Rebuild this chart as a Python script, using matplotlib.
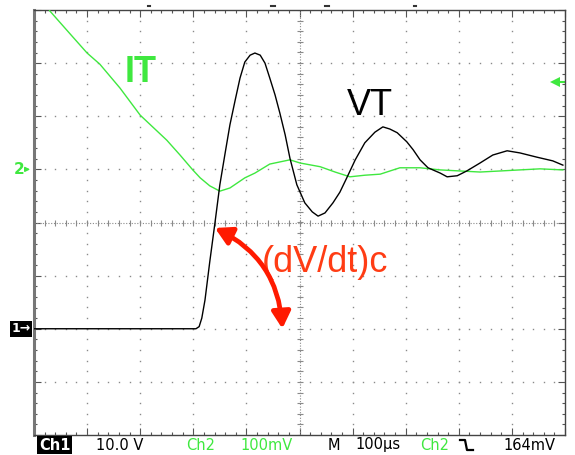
import numpy as np
import matplotlib
matplotlib.use("Agg")
import matplotlib.pyplot as plt
from matplotlib.patches import FancyArrowPatch
from matplotlib.ticker import MultipleLocator

# scope settings
ch1_scale = 10.0     # V/div
ch2_scale = 100.0    # mV/div
time_scale = 100.0   # us/div
ch1_ground = -2      # ground marker position, divisions from centre
ch2_ground = 1
trig_level = 164.0   # mV on ch2

# VT (ch1), volts, time in us from the left edge of the screen
vt_t = [0, 305, 311, 316, 322, 331, 341, 350, 360, 369, 379, 388, 397, 407, 416,
        426, 435, 444, 454, 463, 473, 482, 495, 510, 524, 535, 548, 563, 576,
        589, 605, 623, 642, 657, 670, 684, 702, 714, 727, 742, 765, 778, 797,
        815, 840, 864, 891, 915, 947, 977, 996]
vt_v = [0.0, 0.0, 0.4, 2.0, 5.4, 12.6, 20.1, 27.1, 33.1, 38.4, 43.1, 47.2, 50.2,
        51.5, 51.9, 51.5, 50.0, 47.2, 44.0, 40.6, 36.5, 32.1, 27.1, 23.7, 22.0,
        21.2, 21.8, 23.7, 25.7, 28.4, 31.8, 35.0, 37.0, 38.0, 37.6, 36.9, 35.2,
        33.7, 31.8, 30.3, 29.3, 28.6, 28.8, 29.7, 31.2, 32.7, 33.5, 33.1, 32.3,
        31.6, 30.8]

# IT (ch2), mV
it_t = [20, 30, 68, 100, 124, 162, 200, 250, 275, 299, 313, 331, 350, 369,
        397, 416, 444, 482, 501, 539, 567, 595, 623, 652, 689, 727, 765, 802,
        840, 878, 915, 953, 996]
it_mv = [318, 298, 255, 219, 198, 153, 102, 55, 27, -1, -16, -31, -41, -35,
         -16, -7, 10, 18, 12, 5, -5, -14, -11, -9, 3, 3, -1, -3, -5, -3, -1,
         1, -1]

green = '#3fe83f'
grid_c = '#8a8a8a'

fig = plt.figure(figsize=(5.75, 4.55), dpi=100)
L, R, T, B = 34, 565, 10, 435
ax = fig.add_axes([L / 575, 1 - B / 455, (R - L) / 575, (B - T) / 455])
ax.set_xlim(0, 10)
ax.set_ylim(-4, 4)

# graticule: dotted division lines
fine_y = np.arange(-4, 4.001, 0.2)
fine_x = np.arange(0, 10.001, 0.2)
for gx in range(1, 10):
    if gx == 5:
        continue
    ax.plot(np.full_like(fine_y, gx), fine_y, 's', ms=1.0, color=grid_c, mew=0)
for gy in range(-3, 4):
    if gy == 0:
        continue
    ax.plot(fine_x, np.full_like(fine_x, gy), 's', ms=1.0, color=grid_c, mew=0)
# centre axes with small cross ticks
ax.axhline(0, color=grid_c, lw=0.8, ls=(0, (1, 1.5)))
ax.axvline(5, color=grid_c, lw=0.8, ls=(0, (1, 1.5)))
ax.plot(fine_x, np.zeros_like(fine_x), '|', ms=4, color=grid_c, mew=0.8)
ax.plot(np.full_like(fine_y, 5), fine_y, '_', ms=4, color=grid_c, mew=0.8)

ax.xaxis.set_major_locator(MultipleLocator(1))
ax.xaxis.set_minor_locator(MultipleLocator(0.2))
ax.yaxis.set_major_locator(MultipleLocator(1))
ax.yaxis.set_minor_locator(MultipleLocator(0.2))
ax.tick_params(which='both', direction='in', top=True, right=True,
               labelbottom=False, labelleft=False, color='#555555', width=0.8)
ax.tick_params(which='major', length=5)
ax.tick_params(which='minor', length=2.5)
for s in ['top', 'right', 'bottom']:
    ax.spines[s].set_color('#444444')
    ax.spines[s].set_linewidth(1.0)
ax.spines['left'].set_color('#777777')
ax.spines['left'].set_linewidth(2.2)

# traces
t_vt = np.array(vt_t) / time_scale
y_vt = np.array(vt_v) / ch1_scale + ch1_ground
t_it = np.array(it_t) / time_scale
y_it = np.array(it_mv) / ch2_scale + ch2_ground
ax.plot(t_it, y_it, color=green, lw=1.0, zorder=3)
ax.plot(t_vt, y_vt, color='black', lw=1.0, zorder=4)

# labels on the screen
ax.text(1.71, 2.65, 'IT', color=green, fontsize=26, fontweight='bold',
        family='Liberation Sans', ha='left', va='baseline')
ax.text(5.9, 2.02, 'VT', color='black', fontsize=26,
        family='Liberation Sans', ha='left', va='baseline')
ax.text(4.29, -0.93, '(dV/dt)c', color='#ff3c14', fontsize=26,
        family='Liberation Sans', ha='left', va='baseline')

arrow = FancyArrowPatch((3.36, -0.08), (4.68, -2.05),
                        connectionstyle='arc3,rad=-0.3',
                        arrowstyle='<|-|>,head_length=0.5,head_width=0.28',
                        mutation_scale=20, color='#ff1a00', lw=3.4, zorder=5)
ax.add_patch(arrow)

# ground / trigger markers
ax.text(-0.39, ch2_ground, '2', color=green, fontsize=11, fontweight='bold',
        ha='left', va='center', clip_on=False)
ax.annotate('', xy=(-0.02, ch2_ground), xytext=(-0.22, ch2_ground),
            arrowprops=dict(arrowstyle='-|>', color=green, lw=1.0,
                            mutation_scale=7), annotation_clip=False)
ax.text(-0.42, ch1_ground, '1\u2192', color='white', fontsize=9,
        fontweight='bold', ha='left', va='center', clip_on=False,
        bbox=dict(boxstyle='square,pad=0.1', fc='black', ec='none'))
trig_y = trig_level / ch2_scale + ch2_ground
ax.plot([9.82], [trig_y], '<', ms=7, color=green, mew=0, clip_on=False)
ax.plot([9.85, 9.98], [trig_y, trig_y], color=green, lw=1.5)

# overlay in pixel coords for the readout line
ov = fig.add_axes([0, 0, 1, 1])
ov.set_xlim(0, 575)
ov.set_ylim(455, 0)
ov.axis('off')
for mx, w in [(149, 1.5), (273, 4), (327, 4), (415, 1.5)]:
    ov.plot([mx - w / 2, mx + w / 2], [6, 6], color='#333333', lw=1.5)

ry = 445
fs = 10.5
ov.text(39, ry, 'Ch1', color='white', fontsize=fs, fontweight='bold',
        ha='left', va='center',
        bbox=dict(boxstyle='square,pad=0.12', fc='black', ec='none'))
ov.text(96, ry, '10.0 V', color='black', fontsize=fs, ha='left', va='center')
ov.text(186, ry, 'Ch2', color=green, fontsize=fs, ha='left', va='center')
ov.text(240, ry, '100mV', color=green, fontsize=fs, ha='left', va='center')
ov.text(328, ry, 'M', color='black', fontsize=fs, ha='left', va='center')
ov.text(355, ry, '100\u00b5s', color='black', fontsize=fs, ha='left', va='center')
ov.text(420, ry, 'Ch2', color=green, fontsize=fs, ha='left', va='center')
ov.plot([460, 465, 467, 473], [440, 440, 450, 450], color='black', lw=1.6)
ov.text(503, ry, '164mV', color='black', fontsize=fs, ha='left', va='center')

fig.savefig('out.png', dpi=100)
